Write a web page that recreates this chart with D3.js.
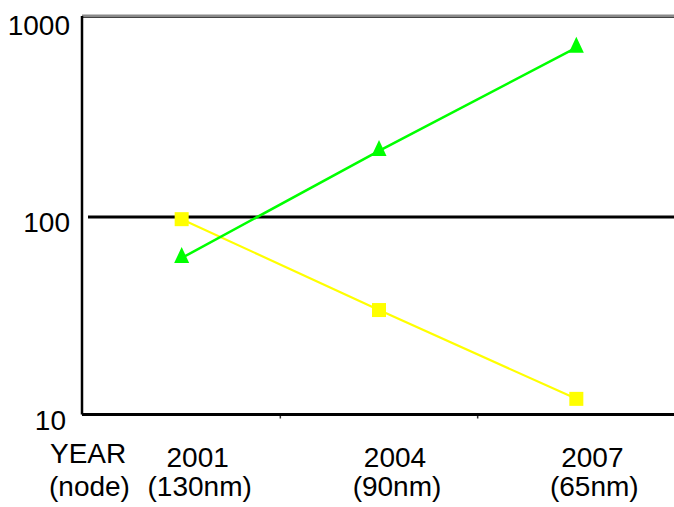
<!DOCTYPE html>
<html>
<head>
<meta charset="utf-8">
<script src="https://cdn.jsdelivr.net/npm/d3@7"></script>
<style>
  html, body { margin: 0; padding: 0; background: #fff; }
  svg { display: block; font-family: "Liberation Sans", Arial, sans-serif; }
</style>
</head>
<body>
<svg id="chart" width="674" height="507"></svg>
<script>
// data
const years = ['2001', '2004', '2007']
const nodes = ['(130nm)', '(90nm)', '(65nm)']
const greenSeries = [62, 216, 720]
const yellowSeries = [97.5, 33.8, 12]
const yTicks = [10, 100, 1000]

const width = 674
const height = 507
const plotLeft = 82
const plotRight = 675
const plotTop = 16
const plotBottom = 414.5
const fontSize = 28

let svg = d3.select('#chart')

let xScale = d3.scaleBand()
  .domain(years)
  .range([plotLeft + 1, plotRight])

let yScale = d3.scaleLog()
  .domain([10, 1000])
  .range([plotBottom, plotTop + 3.5])

let cx = (d) => xScale(d) + xScale.bandwidth() / 2

// frame: grey top edge, gridline at 100, left and bottom axes
svg.append('line')
  .attr('x1', plotLeft).attr('x2', width)
  .attr('y1', plotTop).attr('y2', plotTop)
  .style('stroke', '#8a8a8a').style('stroke-width', 3)
svg.append('line')
  .attr('x1', plotLeft).attr('x2', width)
  .attr('y1', plotTop + 1.5).attr('y2', plotTop + 1.5)
  .style('stroke', '#444').style('stroke-width', 1)

svg.append('line')
  .attr('x1', plotLeft + 6).attr('x2', width)
  .attr('y1', yScale(100)).attr('y2', yScale(100))
  .style('stroke', '#000').style('stroke-width', 3)

svg.append('line')
  .attr('x1', plotLeft).attr('x2', plotLeft)
  .attr('y1', plotTop).attr('y2', yScale(10))
  .style('stroke', '#000').style('stroke-width', 2.5)

svg.append('line')
  .attr('x1', plotLeft).attr('x2', width)
  .attr('y1', yScale(10)).attr('y2', yScale(10))
  .style('stroke', '#000').style('stroke-width', 3)

// little ticks on the bottom axis at the band boundaries
svg.append('g')
  .selectAll('line')
  .data(years.slice(1))
  .enter()
  .append('line')
  .attr('x1', (d) => xScale(d)).attr('x2', (d) => xScale(d))
  .attr('y1', yScale(10) + 1.5).attr('y2', yScale(10) + 4)
  .style('stroke', '#333').style('stroke-width', 1.5)

// y tick labels
svg.append('g')
  .selectAll('text')
  .data(yTicks)
  .enter()
  .append('text')
  .attr('x', (d) => d === 10 ? 66 : 70)
  .attr('y', (d) => yScale(d) + 15)
  .style('font-size', fontSize + 'px')
  .style('text-anchor', 'end')
  .text((d) => d)

// x labels
let labelShift = 16
svg.append('g')
  .selectAll('text')
  .data(years)
  .enter()
  .append('text')
  .attr('x', (d) => cx(d) + labelShift)
  .attr('y', 467)
  .style('font-size', fontSize + 'px')
  .style('text-anchor', 'middle')
  .text((d) => d)

svg.append('g')
  .selectAll('text')
  .data(nodes)
  .enter()
  .append('text')
  .attr('x', (d, i) => cx(years[i]) + labelShift + 2)
  .attr('y', 496)
  .style('font-size', fontSize + 'px')
  .style('text-anchor', 'middle')
  .text((d) => d)

svg.append('text')
  .attr('x', 50).attr('y', 463)
  .style('font-size', fontSize + 'px')
  .text('YEAR')
svg.append('text')
  .attr('x', 49).attr('y', 496)
  .style('font-size', fontSize + 'px')
  .text('(node)')

// series
let lineGenerator = d3.line()
  .x((d, i) => cx(years[i]))
  .y((d) => yScale(d))

svg.append('path')
  .attr('d', lineGenerator(yellowSeries))
  .style('stroke', '#ffff00').style('stroke-width', 2.2).style('fill', 'none')

svg.append('path')
  .attr('d', lineGenerator(greenSeries))
  .style('stroke', '#00ff00').style('stroke-width', 2.5).style('fill', 'none')

let sq = 14
svg.append('g')
  .selectAll('rect')
  .data(yellowSeries)
  .enter()
  .append('rect')
  .attr('x', (d, i) => cx(years[i]) - sq / 2)
  .attr('y', (d) => yScale(d) - sq / 2)
  .attr('width', sq)
  .attr('height', sq)
  .style('fill', '#ffff00')

// tall triangle, centroid on the value
let triPath = 'M0,-11L7.5,5L-7.5,5Z'
svg.append('g')
  .selectAll('path')
  .data(greenSeries)
  .enter()
  .append('path')
  .attr('d', triPath)
  .attr('transform', (d, i) => `translate(${cx(years[i])}, ${yScale(d)})`)
  .style('fill', '#00ff00')
</script>
</body>
</html>
